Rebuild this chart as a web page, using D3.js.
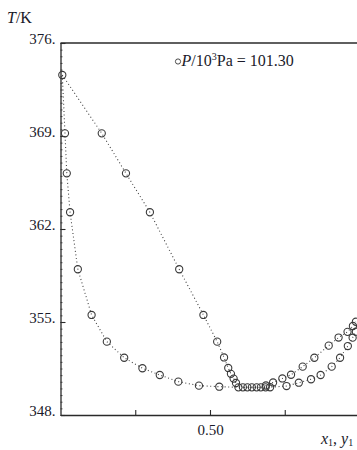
<!DOCTYPE html>
<html>
<head>
<meta charset="utf-8">
<script src="https://cdn.jsdelivr.net/npm/d3@7"></script>
<style>
  html, body { margin: 0; padding: 0; background: #fff; }
  svg { display: block; }
  text { font-family: "Liberation Serif", "Times New Roman", serif; fill: #1a1a2a; }
</style>
</head>
<body>
<script>
// ---- data ----
const bubbleX = [0.006, 0.015, 0.021, 0.032, 0.058, 0.104, 0.155, 0.213, 0.274, 0.332, 0.394, 0.463, 0.531,
                 0.595, 0.625, 0.656, 0.686,
                 0.701, 0.756, 0.797, 0.838, 0.870, 0.907, 0.935, 0.961, 0.977, 0.988];
const bubbleT = [373.59, 369.20, 366.19, 363.26, 358.97, 355.53, 353.52, 352.31, 351.52, 351.01, 350.51, 350.21, 350.13,
                 350.08, 350.08, 350.08, 350.08,
                 350.09, 350.18, 350.43, 350.69, 351.01, 351.64, 352.31, 353.19, 353.82, 354.27];
const dewY = [0.006, 0.138, 0.219, 0.299, 0.397, 0.478, 0.524, 0.547, 0.561, 0.570, 0.579, 0.587,
              0.610, 0.640, 0.670,
              0.687, 0.711, 0.742, 0.771, 0.810, 0.849, 0.897, 0.930, 0.960, 0.978, 0.988];
const dewT = [373.59, 369.20, 366.19, 363.26, 358.97, 355.53, 353.52, 352.33, 351.54, 351.10, 350.74, 350.41,
              350.08, 350.08, 350.08,
              350.22, 350.45, 350.75, 351.03, 351.64, 352.31, 353.22, 353.83, 354.26, 354.70, 355.02];
const yTicks = [348, 355, 362, 369, 376];
const xTicks = [0.25, 0.50, 0.75];
const xLabelled = [0.50];
const pressure = "101.30";

// ---- layout ----
const W = 357, H = 450;
const svg = d3.select("body").append("svg").attr("width", W).attr("height", H);

const x = d3.scaleLinear().domain([0, 1]).range([60.5, 359.5]);
const y = d3.scaleLinear().domain([348, 376]).range([415, 43]);

const axisColor = "#2a2a2a";

// top frame line
svg.append("line")
  .attr("x1", x(0)).attr("x2", x(1))
  .attr("y1", y(376)).attr("y2", y(376))
  .attr("stroke", axisColor).attr("stroke-width", 1.3);

// minor y ticks
const minorY = svg.append("g").attr("transform", `translate(${x(0)},0)`)
  .call(d3.axisLeft(y).tickValues(d3.range(348, 376.01, 0.5)).tickSize(-2).tickFormat(""));
minorY.select(".domain").remove();
minorY.selectAll("line").attr("stroke", axisColor).attr("stroke-width", 0.8);

// left axis
const gy = svg.append("g").attr("transform", `translate(${x(0)},0)`)
  .call(d3.axisLeft(y).tickValues(yTicks).tickSizeInner(-5).tickSizeOuter(0).tickPadding(5)
    .tickFormat(d => d + "."));
gy.select(".domain").attr("stroke", axisColor).attr("stroke-width", 1.3);
gy.selectAll(".tick line").attr("stroke", axisColor).attr("stroke-width", 1.1);
gy.selectAll(".tick text").attr("font-size", 15).attr("font-family", "Liberation Serif")
  .attr("fill", "#1a1a2a").attr("dy", "0.05em");

// bottom axis
const gx = svg.append("g").attr("transform", `translate(0,${y(348)})`)
  .call(d3.axisBottom(x).tickValues(xTicks).tickSizeInner(-5).tickSizeOuter(0).tickPadding(9)
    .tickFormat(d => xLabelled.includes(d) ? d3.format(".2f")(d) : ""));
gx.select(".domain").attr("stroke", axisColor).attr("stroke-width", 1.3);
gx.selectAll(".tick line").attr("stroke", axisColor).attr("stroke-width", 1.1);
gx.selectAll(".tick text").attr("font-size", 15).attr("font-family", "Liberation Serif")
  .attr("fill", "#1a1a2a");

// dotted lines
const line = d3.line().x(d => x(d[0])).y(d => y(d[1]));
const bubble = bubbleX.map((v, i) => [v, bubbleT[i]]);
const dew = dewY.map((v, i) => [v, dewT[i]]);

[bubble, dew].forEach(series => {
  svg.append("path").datum(series)
    .attr("d", line)
    .attr("fill", "none")
    .attr("stroke", "#444")
    .attr("stroke-width", 1.1)
    .attr("stroke-dasharray", "1,2.6");
});

// markers (skip exact duplicates, e.g. the shared pure-component point)
const seen = new Set();
const markers = [...bubble, ...dew].filter(d => {
  const k = d[0] + "," + d[1];
  if (seen.has(k)) return false;
  seen.add(k);
  return true;
});
svg.append("g").selectAll("circle").data(markers).join("circle")
  .attr("cx", d => x(d[0])).attr("cy", d => y(d[1]))
  .attr("r", 3.6)
  .attr("fill", "none")
  .attr("stroke", "#3a3a3a")
  .attr("stroke-width", 1.1);

// y axis title
const yt = svg.append("text").attr("x", 7).attr("y", 23).attr("font-size", 16);
yt.append("tspan").attr("font-style", "italic").text("T");
yt.append("tspan").text("/K");

// legend
svg.append("circle").attr("cx", 178).attr("cy", 61.5).attr("r", 2.6)
  .attr("fill", "none").attr("stroke", "#3a3a3a").attr("stroke-width", 0.9);
const lg = svg.append("text").attr("x", 181.5).attr("y", 66).attr("font-size", 16);
lg.append("tspan").attr("font-style", "italic").text("P");
lg.append("tspan").text("/10");
lg.append("tspan").attr("font-size", 10).attr("dy", "-6").text("3");
lg.append("tspan").attr("dy", "6").text("Pa = " + pressure);

// x axis title (kept fully inside the picture)
const xt = svg.append("text").attr("x", 321).attr("y", 444).attr("font-size", 16);
xt.append("tspan").attr("font-style", "italic").text("x");
xt.append("tspan").attr("font-size", 10).attr("dy", "2").text("1");
xt.append("tspan").attr("dy", "-2").text(", ");
xt.append("tspan").attr("font-style", "italic").text("y");
xt.append("tspan").attr("font-size", 10).attr("dy", "2").text("1");
</script>
</body>
</html>
